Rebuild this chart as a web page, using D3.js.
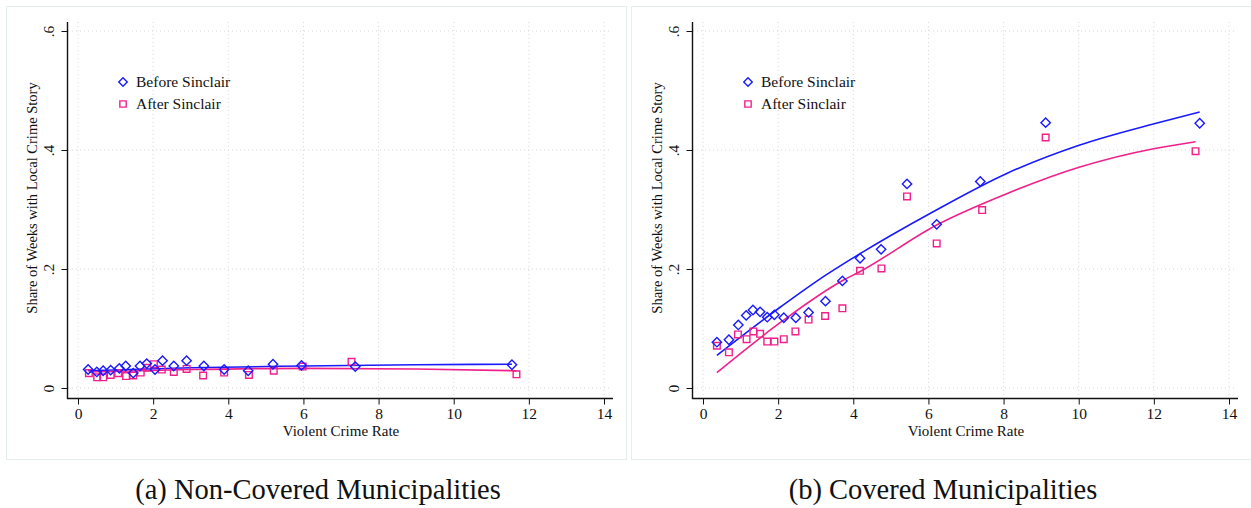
<!DOCTYPE html>
<html>
<head>
<meta charset="utf-8">
<script src="https://cdn.jsdelivr.net/npm/d3@7"></script>
<style>
	body { margin: 0; background: #fff; }
	svg text { fill: #111; }
</style>
</head>
<body>
<div id="chart"></div>
<script>
var W = 1251, H = 508;

const X_TICKS = [0, 2, 4, 6, 8, 10, 12, 14];
const Y_TICKS = [0, 0.2, 0.4, 0.6];
const Y_TICK_LABELS = ["0", ".2", ".4", ".6"];
const SERIES_NAMES = ["Before Sinclair", "After Sinclair"];
const PANEL_TITLES = ["(a) Non-Covered Municipalities", "(b) Covered Municipalities"];

// (a) non-covered: crime rate / share
const NC_BEFORE_X = [0.27, 0.5, 0.67, 0.87, 1.1, 1.27, 1.47, 1.65, 1.83, 2.05, 2.25, 2.55, 2.89, 3.35, 3.89, 4.53, 5.19, 5.95, 7.38, 11.55];
const NC_BEFORE_Y = [0.031, 0.027, 0.029, 0.030, 0.033, 0.037, 0.025, 0.037, 0.041, 0.031, 0.046, 0.037, 0.046, 0.037, 0.031, 0.029, 0.040, 0.038, 0.036, 0.039];
const NC_AFTER_X = [0.29, 0.51, 0.67, 0.87, 1.07, 1.28, 1.47, 1.67, 1.84, 2.02, 2.23, 2.55, 2.89, 3.33, 3.89, 4.55, 5.21, 5.98, 7.28, 11.67];
const NC_AFTER_Y = [0.025, 0.018, 0.018, 0.022, 0.025, 0.020, 0.021, 0.026, 0.034, 0.040, 0.031, 0.027, 0.032, 0.021, 0.026, 0.022, 0.029, 0.036, 0.044, 0.023];
// fitted lines
const NC_FIT_BEFORE_X = [0.27, 3, 6, 9, 11.55];
const NC_FIT_BEFORE_Y = [0.029, 0.034, 0.037, 0.039, 0.040];
const NC_FIT_AFTER_X = [0.29, 3, 6, 9, 11.67];
const NC_FIT_AFTER_Y = [0.027, 0.031, 0.033, 0.032, 0.029];

// (b) covered
const CV_BEFORE_X = [0.37, 0.69, 0.94, 1.15, 1.33, 1.52, 1.71, 1.9, 2.15, 2.47, 2.81, 3.26, 3.71, 4.18, 4.74, 5.43, 6.22, 7.38, 9.12, 13.22];
const CV_BEFORE_Y = [0.077, 0.081, 0.106, 0.122, 0.131, 0.128, 0.119, 0.123, 0.118, 0.118, 0.127, 0.146, 0.180, 0.218, 0.233, 0.343, 0.275, 0.347, 0.446, 0.445];
const CV_AFTER_X = [0.37, 0.69, 0.93, 1.16, 1.34, 1.52, 1.71, 1.9, 2.15, 2.46, 2.81, 3.25, 3.71, 4.18, 4.75, 5.43, 6.22, 7.43, 9.12, 13.11];
const CV_AFTER_Y = [0.071, 0.060, 0.090, 0.082, 0.095, 0.091, 0.078, 0.078, 0.082, 0.095, 0.115, 0.121, 0.134, 0.197, 0.201, 0.322, 0.243, 0.299, 0.421, 0.398];
const CV_FIT_BEFORE_X = [0.37, 2.08, 3.06, 4.16, 6.09, 8.1, 10.01, 12.06, 13.22];
const CV_FIT_BEFORE_Y = [0.055, 0.137, 0.181, 0.225, 0.295, 0.361, 0.408, 0.445, 0.464];
const CV_FIT_AFTER_X = [0.37, 2.08, 3.73, 4.16, 6.22, 8.1, 10.01, 12.06, 13.11];
const CV_FIT_AFTER_Y = [0.026, 0.111, 0.181, 0.195, 0.274, 0.327, 0.371, 0.403, 0.414];

var BLUE = "#1a1aff", PINK = "#f0208a";
var SERIF = "'Liberation Serif', 'Times New Roman', Times, 'DejaVu Serif', serif";

var svg = d3.select("#chart").append("svg")
	.attr("width", W).attr("height", H)
	.attr("font-family", SERIF);

function pts(xs, ys) {
	return xs.map(function (d, i) { return { x: d, y: ys[i] }; });
}

function drawPanel(ox, title, before, after, fitBefore, fitAfter) {
	var g = svg.append("g").attr("transform", "translate(" + ox + ",0)");

	g.append("rect")
		.attr("x", 6.5).attr("y", 6.5)
		.attr("width", 620).attr("height", 453)
		.attr("fill", "none").attr("stroke", "#e4ecee");

	var x = d3.scaleLinear().domain([0, 14]).range([78, 604]);
	var y = d3.scaleLinear().domain([0, 0.6]).range([388, 31]);

	// grid
	g.selectAll(".vgrid").data(X_TICKS).enter().append("line")
		.attr("x1", function (d) { return x(d); }).attr("x2", function (d) { return x(d); })
		.attr("y1", 22).attr("y2", 398)
		.attr("stroke", "#d8d8d8").attr("stroke-dasharray", "1,3");
	g.selectAll(".hgrid").data(Y_TICKS).enter().append("line")
		.attr("x1", 68).attr("x2", 612)
		.attr("y1", function (d) { return y(d); }).attr("y2", function (d) { return y(d); })
		.attr("stroke", "#d8d8d8").attr("stroke-dasharray", "1,3");

	// axes
	var xa = g.append("g").attr("transform", "translate(0,398.5)")
		.call(d3.axisBottom(x).tickValues(X_TICKS).tickSize(6).tickPadding(3).tickSizeOuter(0))
		.attr("font-family", SERIF);
	xa.select(".domain").attr("d", "M67,0H613").attr("stroke", "#111").attr("stroke-width", 1.4);
	xa.selectAll(".tick line").attr("stroke", "#111");
	xa.selectAll(".tick text").attr("font-size", 15.5).attr("fill", "#111");

	var ya = g.append("g").attr("transform", "translate(67.5,0)")
		.call(d3.axisLeft(y).tickValues(Y_TICKS).tickSize(6).tickSizeOuter(0)
			.tickFormat(function (d, i) { return Y_TICK_LABELS[i]; }))
		.attr("font-family", SERIF);
	ya.select(".domain").attr("d", "M0,22V399").attr("stroke", "#111").attr("stroke-width", 1.4);
	ya.selectAll(".tick line").attr("stroke", "#111");
	ya.selectAll(".tick text").attr("font-size", 15.5).attr("fill", "#111")
		.attr("x", 0).attr("dy", 0)
		.attr("text-anchor", "middle")
		.attr("transform", "translate(-14,0) rotate(-90)");

	g.append("text")
		.attr("transform", "translate(37,198) rotate(-90)")
		.attr("text-anchor", "middle").attr("font-size", 14.5)
		.text("Share of Weeks with Local Crime Story");
	g.append("text")
		.attr("x", 341).attr("y", 436)
		.attr("text-anchor", "middle").attr("font-size", 15)
		.text("Violent Crime Rate");

	// fitted lines
	var line = d3.line()
		.x(function (d) { return x(d.x); })
		.y(function (d) { return y(d.y); })
		.curve(d3.curveMonotoneX);
	g.append("path").datum(fitBefore).attr("d", line)
		.attr("fill", "none").attr("stroke", BLUE).attr("stroke-width", 1.6);
	g.append("path").datum(fitAfter).attr("d", line)
		.attr("fill", "none").attr("stroke", PINK).attr("stroke-width", 1.6);

	// markers
	var sq = d3.symbol().type(d3.symbolSquare).size(44);
	g.selectAll(".after").data(after).enter().append("path")
		.attr("d", sq)
		.attr("transform", function (d) { return "translate(" + x(d.x) + "," + y(d.y) + ")"; })
		.attr("fill", "none").attr("stroke", PINK).attr("stroke-width", 1.4);
	g.selectAll(".before").data(before).enter().append("path")
		.attr("d", sq)
		.attr("transform", function (d) { return "translate(" + x(d.x) + "," + y(d.y) + ") rotate(45)"; })
		.attr("fill", "none").attr("stroke", BLUE).attr("stroke-width", 1.4);

	// legend
	var lg = g.append("g");
	lg.append("path").attr("d", d3.symbol().type(d3.symbolSquare).size(36))
		.attr("transform", "translate(123,82) rotate(45)")
		.attr("fill", "none").attr("stroke", BLUE).attr("stroke-width", 1.4);
	lg.append("path").attr("d", d3.symbol().type(d3.symbolSquare).size(40))
		.attr("transform", "translate(123,104)")
		.attr("fill", "none").attr("stroke", PINK).attr("stroke-width", 1.4);
	lg.selectAll(".lt").data(SERIES_NAMES).enter().append("text")
		.attr("x", 136).attr("y", function (d, i) { return 87 + i * 22; })
		.attr("font-size", 15.5)
		.text(function (d) { return d; });

	svg.append("text")
		.attr("x", ox + 318).attr("y", 499)
		.attr("text-anchor", "middle").attr("font-size", 28.5)
		.text(title);
}

drawPanel(0, PANEL_TITLES[0],
	pts(NC_BEFORE_X, NC_BEFORE_Y), pts(NC_AFTER_X, NC_AFTER_Y),
	pts(NC_FIT_BEFORE_X, NC_FIT_BEFORE_Y), pts(NC_FIT_AFTER_X, NC_FIT_AFTER_Y));
drawPanel(625, PANEL_TITLES[1],
	pts(CV_BEFORE_X, CV_BEFORE_Y), pts(CV_AFTER_X, CV_AFTER_Y),
	pts(CV_FIT_BEFORE_X, CV_FIT_BEFORE_Y), pts(CV_FIT_AFTER_X, CV_FIT_AFTER_Y));
</script>
</body>
</html>
